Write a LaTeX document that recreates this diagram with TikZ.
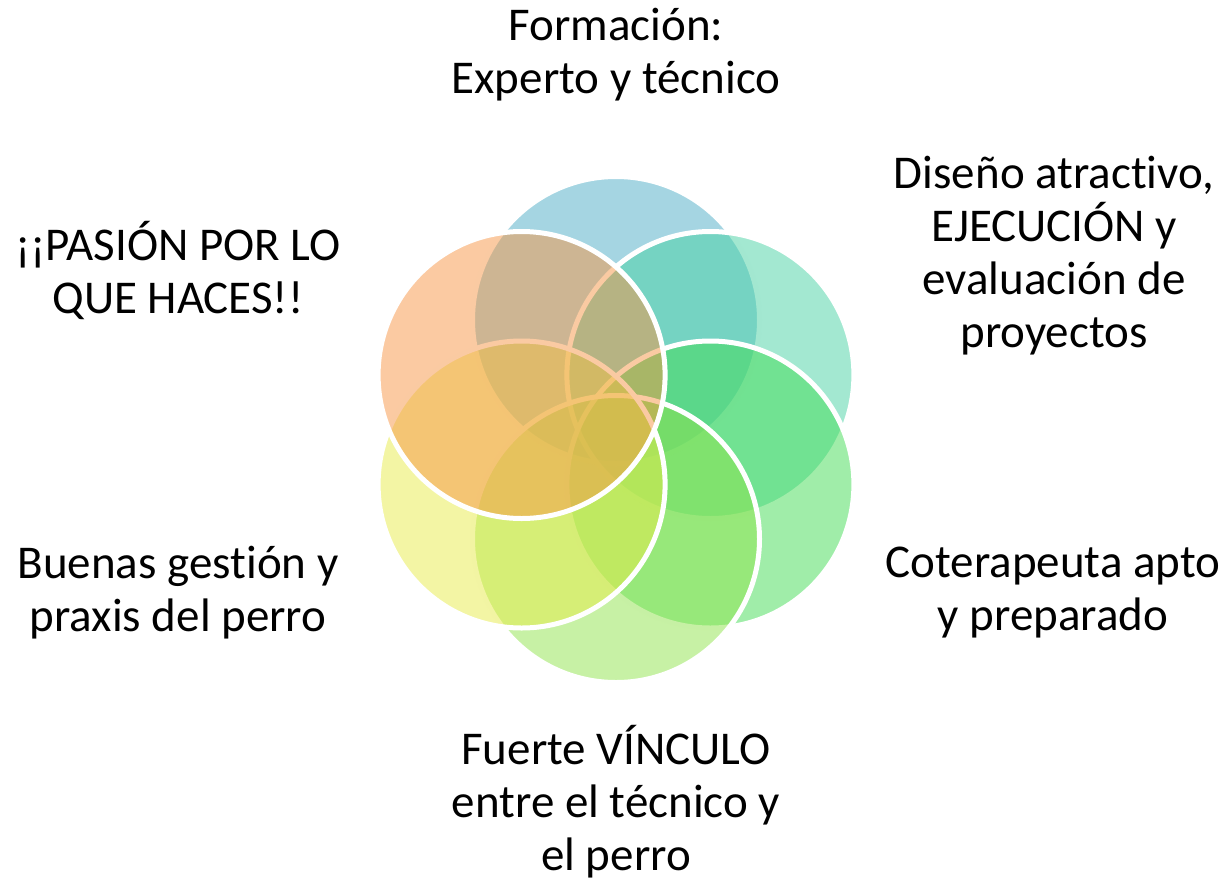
\documentclass[tikz,border=0pt]{standalone}
\usepackage{fontspec}
\setmainfont{Carlito}[Ligatures={NoCommon,NoContextual}]
\definecolor{cblue}{HTML}{4BACC6}
\definecolor{cteal}{HTML}{47D1A3}
\definecolor{cgreen}{HTML}{42DC54}
\definecolor{clgreen}{HTML}{8FE34B}
\definecolor{cyellow}{HTML}{E7EB49}
\definecolor{corange}{HTML}{F79646}
\begin{document}
\begin{tikzpicture}[x=1pt,y=-1pt,
  circ/.style={circle, minimum size=287pt, inner sep=0pt, draw=white, line width=5pt, fill opacity=0.5, draw opacity=1},
  lab/.style={font=\fontsize{47}{53}\selectfont, align=center, text=black, inner sep=0pt}]
\useasboundingbox (0,0) rectangle (1227,879);
\node[circ, fill=cblue]   (c1) at (616,320) {};
\node[circ, fill=cteal]   (c2) at (710.4,375) {};
\node[circ, fill=cgreen]  (c3) at (710.4,484.5) {};
\node[circ, fill=clgreen] (c4) at (616,539) {};
\node[circ, fill=cyellow] (c5) at (521.6,484.5) {};
\node[circ, fill=corange] (c6) at (521.6,375) {};
\node[lab] (t1) at (616,55) {Formación:\\Experto y técnico};
\node[lab] (t2) at (1054,256) {Diseño atractivo,\\EJECUCIÓN y\\evaluación de\\proyectos};
\node[lab] (t3) at (1053,593) {Coterapeuta apto\\y preparado};
\node[lab] (t4) at (616,802) {Fuerte VÍNCULO\\entre el técnico y\\el perro};
\node[lab] (t5) at (178,593) {Buenas gestión y\\praxis del perro};
\node[lab] (t6) at (178,270) {¡¡PASIÓN POR LO\\QUE HACES!!};
\end{tikzpicture}
\end{document}
